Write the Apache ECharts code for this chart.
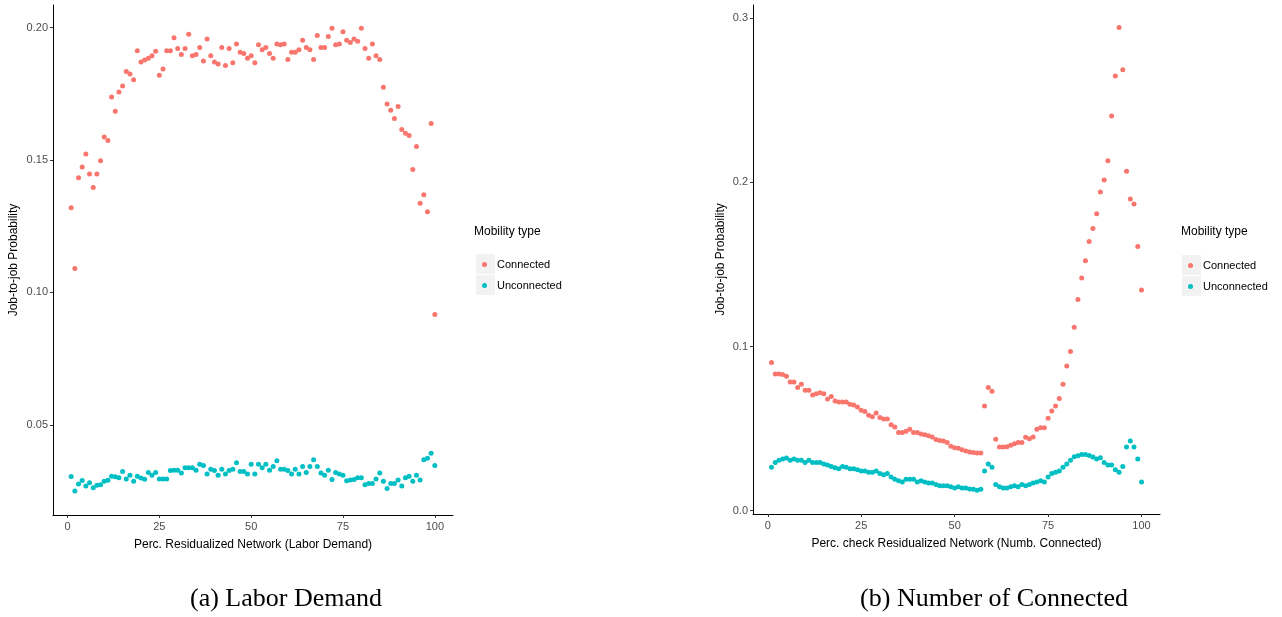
<!DOCTYPE html>
<html>
<head>
<meta charset="utf-8">
<script src="https://cdn.jsdelivr.net/npm/echarts@6/dist/echarts.min.js"></script>
<style>
html,body{margin:0;padding:0;background:#fff;}
#chart{width:1282px;height:617px;}
</style>
</head>
<body>
<div id="chart"></div>
<script>
// Percentile categories (x values)
const pct = [1,2,3,4,5,6,7,8,9,10,11,12,13,14,15,16,17,18,19,20,21,22,23,24,25,26,27,28,29,30,31,32,33,34,35,36,37,38,39,40,41,42,43,44,45,46,47,48,49,50,51,52,53,54,55,56,57,58,59,60,61,62,63,64,65,66,67,68,69,70,71,72,73,74,75,76,77,78,79,80,81,82,83,84,85,86,87,88,89,90,91,92,93,94,95,96,97,98,99,100];

// Panel (a) Labor Demand
const ldConnected = [0.1320,0.1090,0.1433,0.1474,0.1523,0.1447,0.1396,0.1447,0.1497,0.1587,
0.1574,0.1738,0.1684,0.1757,0.1779,0.1834,0.1825,0.1803,0.1912,0.1870,
0.1877,0.1884,0.1893,0.1910,0.1820,0.1843,0.1912,0.1912,0.1961,0.1921,
0.1898,0.1921,0.1975,0.1893,0.1898,0.1925,0.1874,0.1957,0.1893,0.1870,
0.1862,0.1925,0.1857,0.1921,0.1867,0.1938,0.1907,0.1902,0.1884,0.1893,
0.1867,0.1935,0.1916,0.1925,0.1902,0.1884,0.1938,0.1935,0.1938,0.1879,
0.1907,0.1907,0.1916,0.1952,0.1925,0.1916,0.1879,0.1970,0.1925,0.1925,
0.1966,0.1997,0.1935,0.1938,0.1984,0.1952,0.1943,0.1957,0.1948,0.1997,
0.1921,0.1884,0.1938,0.1893,0.1879,0.1775,0.1711,0.1688,0.1657,0.1702,
0.1615,0.1601,0.1592,0.1464,0.1551,0.1337,0.1369,0.1305,0.1638,0.0917];
const ldUnconnected = [0.0305,0.0251,0.0277,0.0290,0.0269,0.0282,0.0263,0.0272,0.0274,0.0287,
0.0291,0.0306,0.0304,0.0301,0.0324,0.0296,0.0310,0.0287,0.0306,0.0300,
0.0295,0.0320,0.0310,0.0320,0.0296,0.0296,0.0296,0.0328,0.0329,0.0329,
0.0319,0.0338,0.0338,0.0338,0.0329,0.0352,0.0347,0.0315,0.0333,0.0328,
0.0310,0.0333,0.0315,0.0328,0.0333,0.0357,0.0324,0.0324,0.0315,0.0352,
0.0315,0.0352,0.0338,0.0352,0.0329,0.0343,0.0365,0.0333,0.0333,0.0328,
0.0315,0.0333,0.0315,0.0343,0.0320,0.0343,0.0369,0.0343,0.0319,0.0310,
0.0329,0.0294,0.0320,0.0315,0.0310,0.0289,0.0292,0.0294,0.0301,0.0301,
0.0274,0.0279,0.0279,0.0296,0.0319,0.0287,0.0260,0.0279,0.0279,0.0292,
0.0269,0.0301,0.0306,0.0287,0.0310,0.0292,0.0369,0.0374,0.0393,0.0347];

// Panel (b) Number of Connected
const ncConnected = [0.0902,0.0833,0.0833,0.0829,0.0819,0.0784,0.0784,0.0750,0.0770,0.0733,
0.0733,0.0705,0.0713,0.0719,0.0713,0.0681,0.0695,0.0668,0.0662,0.0662,
0.0662,0.0648,0.0644,0.0632,0.0612,0.0605,0.0581,0.0573,0.0595,0.0567,
0.0559,0.0559,0.0524,0.0510,0.0477,0.0477,0.0484,0.0496,0.0477,0.0477,
0.0467,0.0463,0.0457,0.0449,0.0433,0.0427,0.0425,0.0416,0.0392,0.0384,
0.0380,0.0372,0.0364,0.0358,0.0354,0.0352,0.0352,0.0638,0.0750,0.0728,
0.0435,0.0388,0.0388,0.0390,0.0398,0.0408,0.0416,0.0416,0.0447,0.0439,
0.0449,0.0496,0.0506,0.0506,0.0563,0.0608,0.0638,0.0683,0.0770,0.0882,
0.0969,0.1118,0.1286,0.1418,0.1522,0.1640,0.1719,0.1809,0.1941,0.2014,
0.2132,0.2404,0.2648,0.2943,0.2685,0.2067,0.1898,0.1868,0.1609,0.1345];
const ncUnconnected = [0.0264,0.0293,0.0307,0.0315,0.0321,0.0307,0.0315,0.0307,0.0307,0.0293,
0.0307,0.0293,0.0293,0.0293,0.0284,0.0278,0.0270,0.0262,0.0256,0.0270,
0.0264,0.0256,0.0256,0.0250,0.0242,0.0242,0.0234,0.0234,0.0242,0.0227,
0.0219,0.0227,0.0205,0.0191,0.0183,0.0175,0.0191,0.0191,0.0191,0.0175,
0.0183,0.0175,0.0169,0.0169,0.0160,0.0152,0.0152,0.0152,0.0146,0.0138,
0.0146,0.0138,0.0138,0.0132,0.0130,0.0124,0.0130,0.0242,0.0284,0.0264,
0.0160,0.0146,0.0138,0.0138,0.0146,0.0152,0.0146,0.0160,0.0152,0.0160,
0.0169,0.0175,0.0183,0.0175,0.0205,0.0227,0.0234,0.0242,0.0264,0.0284,
0.0307,0.0329,0.0335,0.0343,0.0343,0.0337,0.0327,0.0315,0.0323,0.0293,
0.0278,0.0278,0.0250,0.0234,0.0270,0.0388,0.0425,0.0388,0.0315,0.0175];

// Tick labels
const xTicks = [0,25,50,75,100];
const yTicksA = [0.05,0.10,0.15,0.20];
const yTicksB = [0.0,0.1,0.2,0.3];

const C_CONN = '#F8766D';
const C_UNCO = '#00BFC4';
const FONT = '"Liberation Sans", Arial, sans-serif';
const SERIF = '"Liberation Serif", "DejaVu Serif", serif';

function pairs(ys){ return pct.map((x,i)=>[x, ys[i]]); }

function xAxis(gi, name){
  return {
    type:'value', gridIndex:gi, min:-3.95, max:104.95,
    name:name, nameLocation:'middle', nameGap:24,
    nameTextStyle:{color:'#000', fontSize:12, fontFamily:FONT},
    axisLine:{show:true, onZero:false, lineStyle:{color:'#000', width:1}},
    axisTick:{show:true, length:3, customValues:xTicks, lineStyle:{color:'#333'}},
    axisLabel:{show:true, customValues:xTicks, margin:6, color:'#4d4d4d', fontSize:11, fontFamily:FONT},
    splitLine:{show:false}
  };
}
function yAxis(gi, min, max, ticks, dec, gap){
  return {
    type:'value', gridIndex:gi, min:min, max:max,
    name:'Job-to-job Probability', nameLocation:'middle', nameGap:gap, nameRotate:90,
    nameTextStyle:{color:'#000', fontSize:12, fontFamily:FONT},
    axisLine:{show:true, onZero:false, lineStyle:{color:'#000', width:1}},
    axisTick:{show:true, length:3, customValues:ticks, lineStyle:{color:'#333'}},
    axisLabel:{show:true, customValues:ticks, margin:5, color:'#4d4d4d', fontSize:11, fontFamily:FONT,
      formatter:(v)=>v.toFixed(dec)},
    splitLine:{show:false}
  };
}
function scatter(name, xi, ys, color){
  return {
    type:'scatter', name:name, xAxisIndex:xi, yAxisIndex:xi,
    data:pairs(ys), symbol:'circle', symbolSize:5,
    itemStyle:{color:color, opacity:1}, emphasis:{disabled:true}, animation:false
  };
}
function legend(left, top){
  return {
    orient:'vertical', left:left, top:top, padding:0, itemWidth:5, itemHeight:5, itemGap:0,
    icon:'circle', selectedMode:false,
    data:['Connected','Unconnected'],
    textStyle:{color:'#000', fontSize:11, fontFamily:FONT, lineHeight:21, padding:[0,0,0,5]}
  };
}

const chart = echarts.init(document.getElementById('chart'), null, {renderer:'canvas'});
chart.setOption({
  backgroundColor:'#fff',
  animation:false,
  grid:[
    {left:53, right:829, top:5, bottom:102, containLabel:false},
    {left:753, right:122, top:5, bottom:103, containLabel:false}
  ],
  xAxis:[
    xAxis(0,'Perc. Residualized Network (Labor Demand)'),
    xAxis(1,'Perc. check Residualized Network (Numb. Connected)')
  ],
  yAxis:[
    yAxis(0, 0.016, 0.2085, yTicksA, 2, 33),
    yAxis(1, -0.002, 0.308, yTicksB, 1, 26)
  ],
  legend:[legend(482,254), legend(1188,255)],
  graphic:[
    {type:'rect', shape:{x:476, y:254, width:19, height:20}, style:{fill:'#f2f2f2'}, z:-1},
    {type:'rect', shape:{x:476, y:275, width:19, height:20}, style:{fill:'#f2f2f2'}, z:-1},
    {type:'rect', shape:{x:1182, y:255, width:19, height:20}, style:{fill:'#f2f2f2'}, z:-1},
    {type:'rect', shape:{x:1182, y:276, width:19, height:20}, style:{fill:'#f2f2f2'}, z:-1},
    {type:'text', x:474, y:232, style:{text:'Mobility type', fill:'#000', font:'12px '+FONT, textVerticalAlign:'middle'}},
    {type:'text', x:1181, y:232, style:{text:'Mobility type', fill:'#000', font:'12px '+FONT, textVerticalAlign:'middle'}},
    {type:'text', x:286, y:599, style:{text:'(a) Labor Demand', fill:'#000', font:'26px '+SERIF, textAlign:'center', textVerticalAlign:'middle'}},
    {type:'text', x:994, y:599, style:{text:'(b) Number of Connected', fill:'#000', font:'26px '+SERIF, textAlign:'center', textVerticalAlign:'middle'}}
  ],
  series:[
    scatter('Connected',0,ldConnected,C_CONN),
    scatter('Unconnected',0,ldUnconnected,C_UNCO),
    scatter('Connected',1,ncConnected,C_CONN),
    scatter('Unconnected',1,ncUnconnected,C_UNCO)
  ]
});
</script>
</body>
</html>
